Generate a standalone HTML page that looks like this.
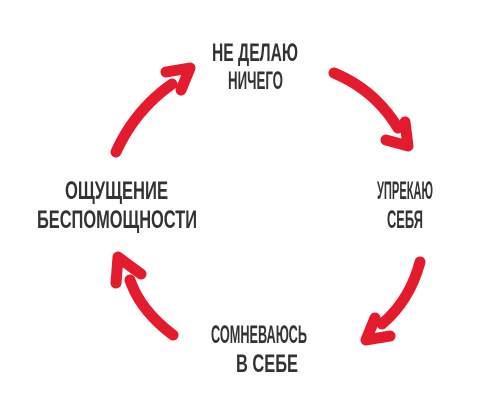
<!DOCTYPE html>
<html><head><meta charset="utf-8"><style>
html,body{margin:0;padding:0;background:#fff;}
svg{display:block;}
text{font-family:"Liberation Sans",sans-serif;font-weight:bold;fill:#333;font-size:25px;}
</style></head><body>
<svg width="500" height="416" viewBox="0 0 500 416" xmlns="http://www.w3.org/2000/svg">
<g fill="none" stroke="#e31b2c" stroke-width="11" stroke-linecap="round" stroke-linejoin="round">
<path d="M116 152 Q135 110 172 84"/>
<path d="M166 72 L190 68 L181 90"/>
<path d="M334 73 Q375 90 398 128"/>
<path d="M405 122 L408 146 L386 140"/>
<path d="M420 262 Q410 300 382 324"/>
<path d="M375 318 L366 340 L390 336"/>
<path d="M173 335 Q140 310 130 280"/>
<path d="M116 283 L118 257 L141 274"/>
</g>
<text x="212" y="61" textLength="86" lengthAdjust="spacingAndGlyphs">НЕ ДЕЛАЮ</text>
<text x="228" y="89" textLength="55" lengthAdjust="spacingAndGlyphs">НИЧЕГО</text>
<text x="65" y="199" textLength="103" lengthAdjust="spacingAndGlyphs">ОЩУЩЕНИЕ</text>
<text x="37" y="228" textLength="160" lengthAdjust="spacingAndGlyphs">БЕСПОМОЩНОСТИ</text>
<text x="377" y="199" textLength="56" lengthAdjust="spacingAndGlyphs">УПРЕКАЮ</text>
<text x="387" y="228" textLength="36" lengthAdjust="spacingAndGlyphs">СЕБЯ</text>
<text x="211" y="343" textLength="96" lengthAdjust="spacingAndGlyphs">СОМНЕВАЮСЬ</text>
<text x="236" y="372" textLength="62" lengthAdjust="spacingAndGlyphs">В СЕБЕ</text>
</svg>
</body></html>
